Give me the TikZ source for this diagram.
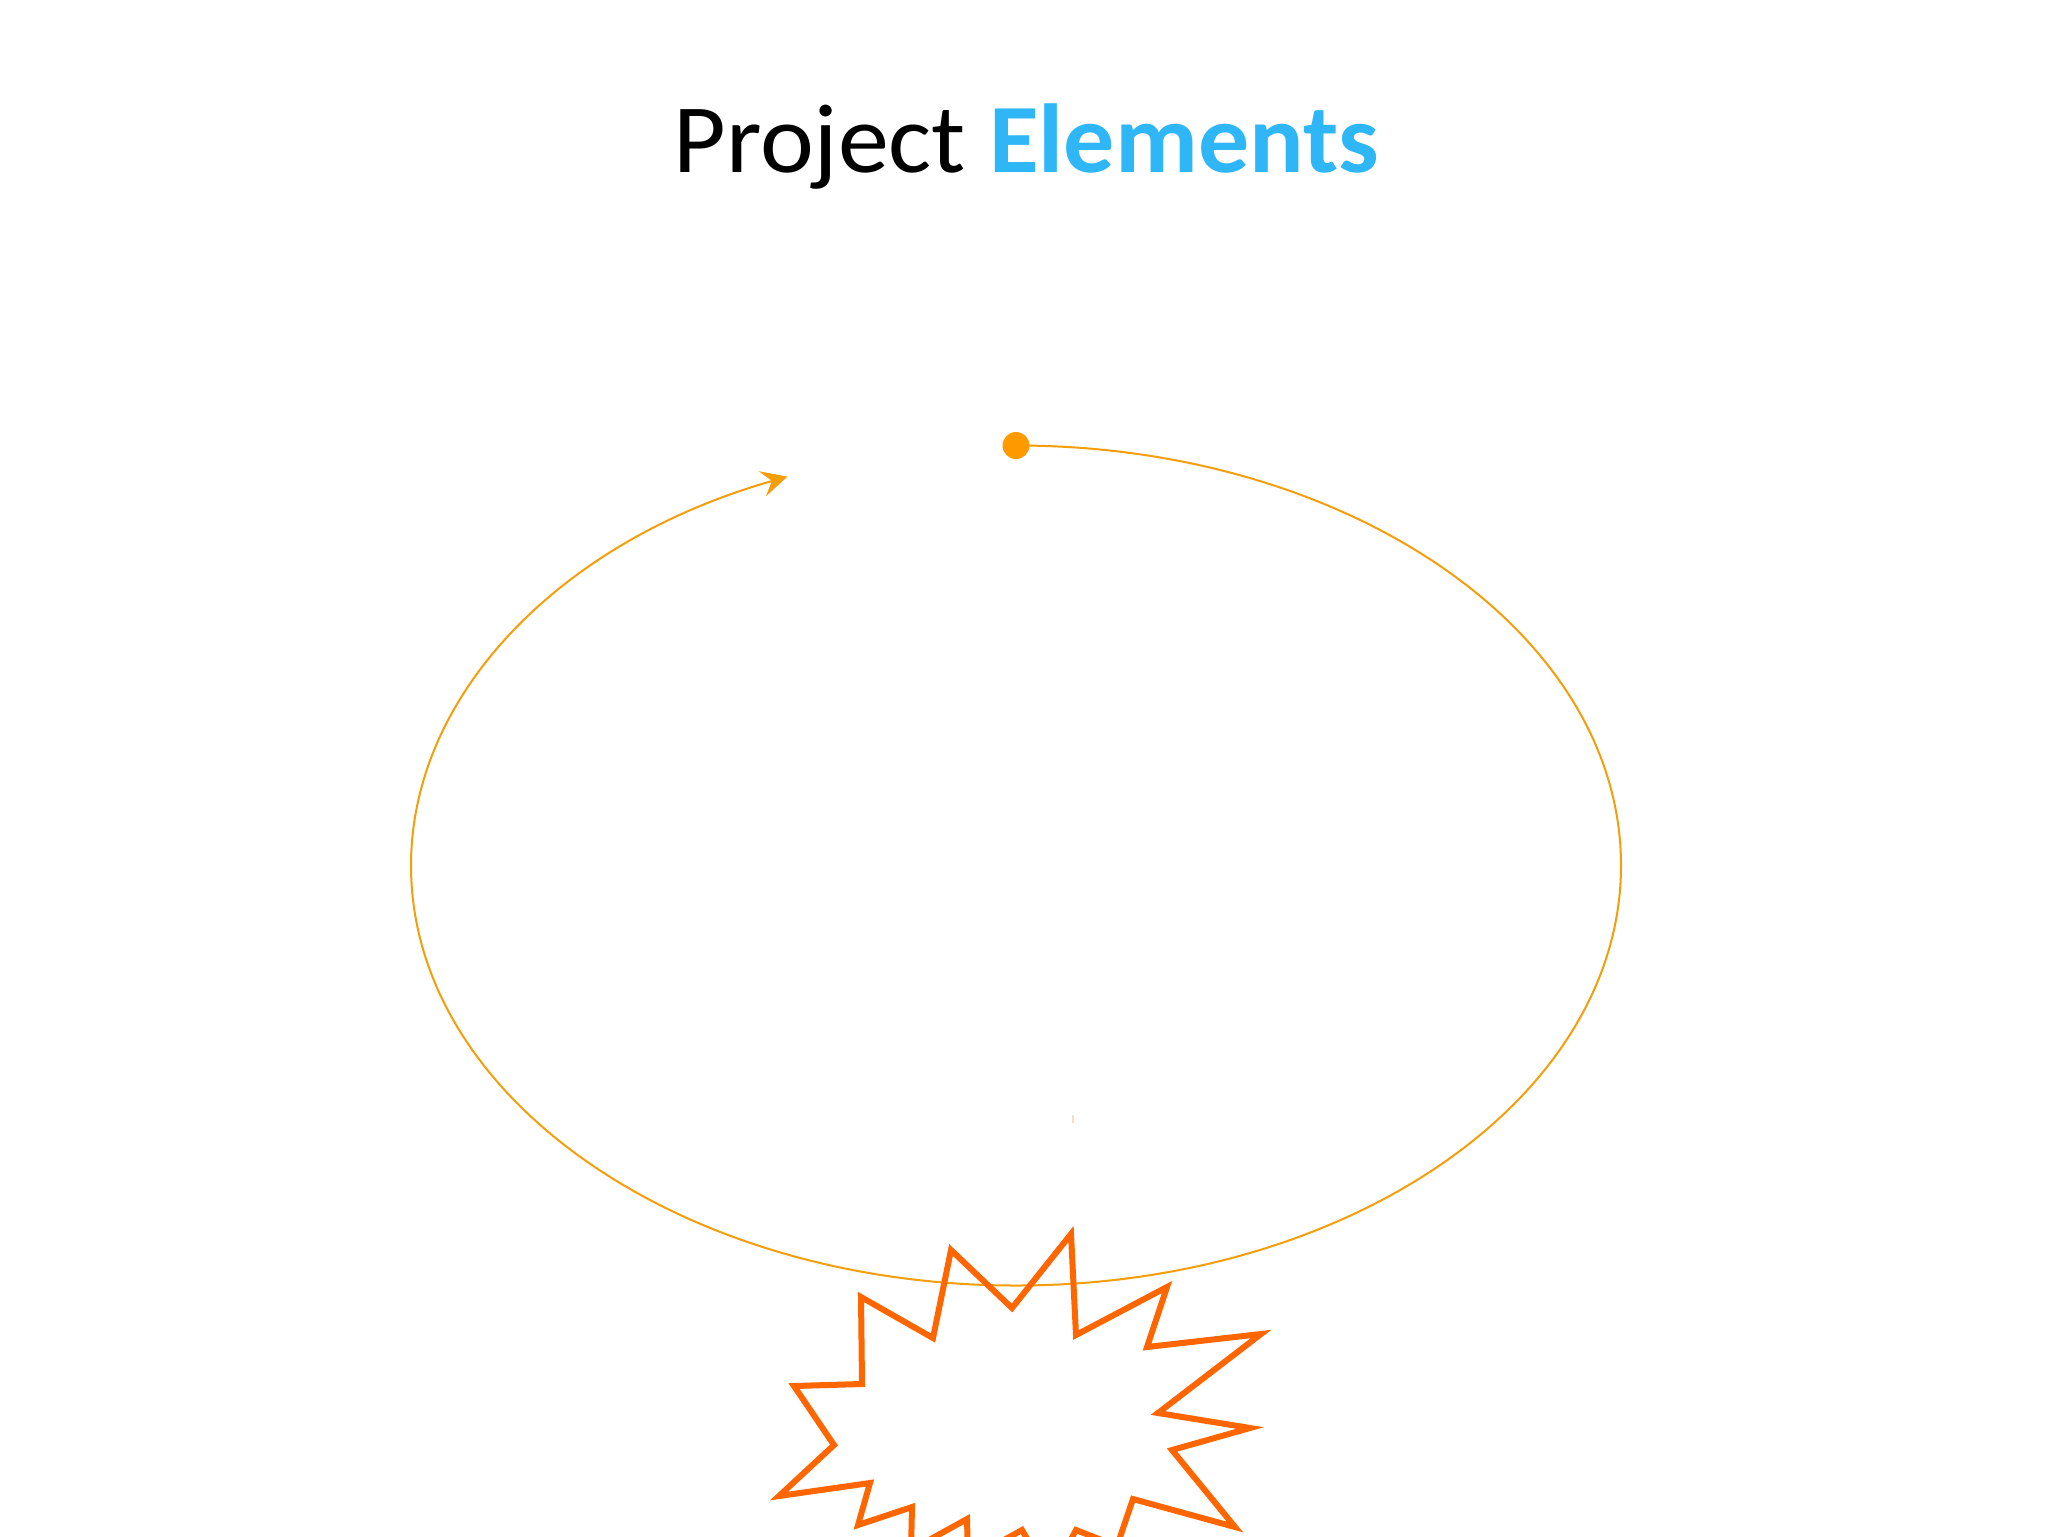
\documentclass[tikz,border=0pt]{standalone}
\usepackage{fontspec}
\setmainfont{Carlito}
\usetikzlibrary{arrows.meta}
\definecolor{titleblue}{RGB}{46,182,246}
\definecolor{ringorange}{RGB}{245,158,11}
\definecolor{dotorange}{RGB}{255,153,0}
\definecolor{burstorange}{RGB}{255,102,0}
\definecolor{faintmark}{RGB}{248,222,196}
\tikzset{
  ringline/.style={draw=ringorange, line width=1pt},
  burstline/.style={draw=burstorange, line width=3pt, line join=miter, miter limit=20},
  titletext/.style={anchor=base west, inner sep=0pt, font=\fontsize{49}{60}\selectfont}
}
\begin{document}
\begin{tikzpicture}[x=0.5pt,y=-0.5pt]
\useasboundingbox (0,0) rectangle (2048,1536);
\clip (0,0) rectangle (2048,1536);
\fill[white] (0,0) rectangle (2048,1536);

\node[titletext] (title) at (673,172) {\scalebox{1.04}[1]{Project \textbf{\textcolor{titleblue}{Elements}}}};

\coordinate (start) at (1016,445.5);
\draw[ringline, -{Stealth[length=13pt,width=13pt,inset=5pt]}] (start) arc[start angle=-90, end angle=247.8, x radius=605, y radius=420];
\fill[dotorange] (start) circle[radius=13.5];

\draw[faintmark, line width=0.8pt] (1073,1115) -- (1073,1123);

\draw[burstline] (1071,1234) -- (1076,1335) -- (1167,1287) -- (1147,1347) -- (1261,1334)
  -- (1158,1413) -- (1250,1428) -- (1172,1450) -- (1235,1527) -- (1133,1499)
  -- (1117,1546) -- (1076,1530) -- (1050,1578) -- (1022,1530) -- (968,1560)
  -- (967,1519) -- (911,1550) -- (912,1507) -- (858,1525) -- (870,1483)
  -- (779,1496) -- (834,1445) -- (794,1386) -- (862,1384) -- (861,1297)
  -- (933,1338) -- (951,1250) -- (1012,1308) -- cycle;
\end{tikzpicture}
\end{document}
